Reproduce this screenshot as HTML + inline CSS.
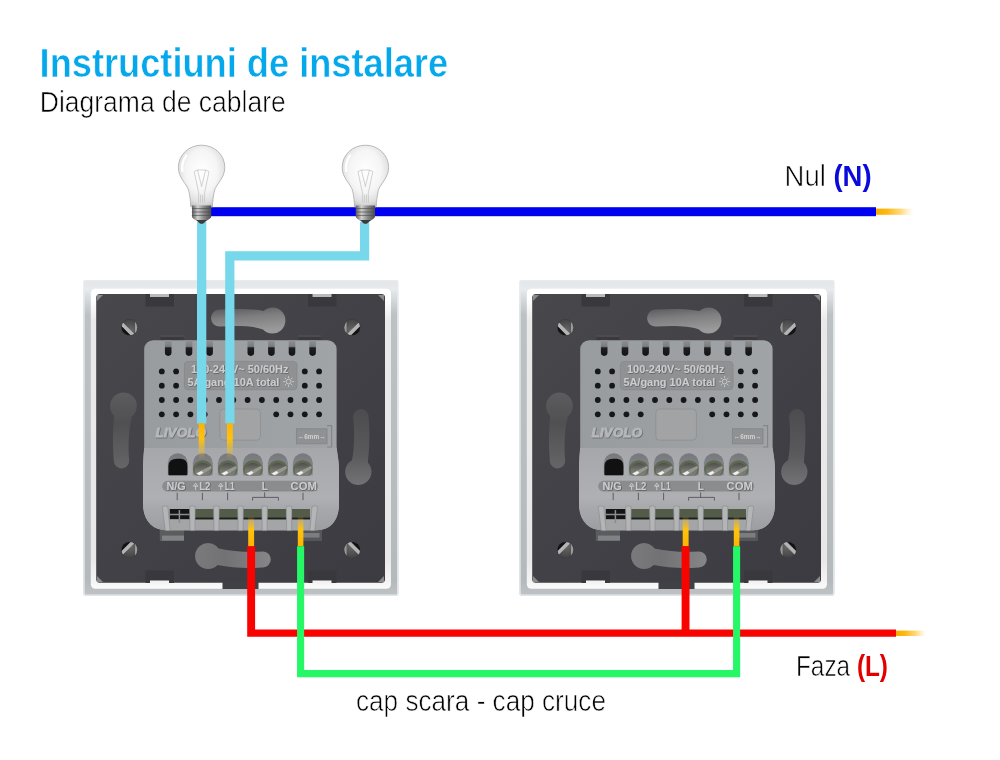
<!DOCTYPE html>
<html lang="ro">
<head>
<meta charset="utf-8">
<title>Instructiuni de instalare - Diagrama de cablare</title>
<style>
html,body{margin:0;padding:0;background:#fff;}
body{width:1000px;height:760px;overflow:hidden;font-family:"Liberation Sans",sans-serif;}
svg{display:block;will-change:transform;}
text{font-family:"Liberation Sans",sans-serif;}
.t1{font-size:40.6px;font-weight:bold;fill:#06a8ec;stroke:#fff;stroke-width:0.5px;}
.t2{font-size:30.3px;fill:#000;stroke:#fff;stroke-width:0.65px;}
.lb{font-size:29.2px;fill:#000;stroke:#fff;stroke-width:0.65px;}
.lb .b{font-weight:bold;stroke:none;}
.mk{font-size:10.2px;font-weight:bold;fill:#cbcdcf;filter:url(#sh);}
.pl{font-size:10px;}
</style>
</head>
<body>
<svg width="1000" height="760" viewBox="0 0 1000 760">
<defs>
<linearGradient id="gPanel" x1="0" y1="0" x2="1" y2="1">
<stop offset="0" stop-color="#47474c"/><stop offset="1" stop-color="#3b3b41"/>
</linearGradient>
<linearGradient id="gFrame" x1="0" y1="0" x2="0" y2="1">
<stop offset="0" stop-color="#e2e6e9"/><stop offset="0.03" stop-color="#e8ebee"/><stop offset="0.045" stop-color="#dde1e4"/><stop offset="0.11" stop-color="#bcc1c4"/><stop offset="0.95" stop-color="#b4b9bc"/><stop offset="1" stop-color="#bfc3c6"/>
</linearGradient>
<linearGradient id="gInner" x1="0" y1="0" x2="0" y2="1">
<stop offset="0" stop-color="#ffffff"/><stop offset="0.035" stop-color="#ffffff"/><stop offset="0.11" stop-color="#e9e9e9"/><stop offset="0.9" stop-color="#e8e8e8"/><stop offset="0.975" stop-color="#f4f4f4"/><stop offset="1" stop-color="#fbfbfb"/>
</linearGradient>
<linearGradient id="gMod" x1="0" y1="0" x2="1" y2="0">
<stop offset="0" stop-color="#999c9f"/><stop offset="1" stop-color="#a1a4a6"/>
</linearGradient>
<linearGradient id="gTerm" x1="0" y1="0" x2="0" y2="1">
<stop offset="0" stop-color="#a5a7aa"/><stop offset="0.6" stop-color="#aeb0b3"/><stop offset="0.74" stop-color="#a6a8ab"/><stop offset="1" stop-color="#9c9ea1"/>
</linearGradient>
<linearGradient id="gSlot" x1="0" y1="0" x2="0" y2="1">
<stop offset="0" stop-color="#8f9193"/><stop offset="0.4" stop-color="#7b7d7f"/><stop offset="0.5" stop-color="#1e1e20"/><stop offset="1" stop-color="#141416"/>
</linearGradient>
<linearGradient id="gKeyT" x1="0" y1="0" x2="0.25" y2="1">
<stop offset="0" stop-color="#565659"/><stop offset="0.45" stop-color="#7e7e80"/><stop offset="1" stop-color="#9a9a9a"/>
</linearGradient>
<linearGradient id="gKeyL" x1="0" y1="0" x2="0" y2="1">
<stop offset="0" stop-color="#5c5c5e"/><stop offset="0.4" stop-color="#505052"/><stop offset="1" stop-color="#656567"/>
</linearGradient>
<linearGradient id="gKeyR" x1="0" y1="0" x2="0" y2="1">
<stop offset="0" stop-color="#4c4c4e"/><stop offset="0.6" stop-color="#5a5a5c"/><stop offset="1" stop-color="#737375"/>
</linearGradient>
<linearGradient id="gKeyB" x1="0" y1="0" x2="1" y2="0">
<stop offset="0" stop-color="#7a7a7c"/><stop offset="0.4" stop-color="#727274"/><stop offset="1" stop-color="#868688"/>
</linearGradient>
<linearGradient id="gScrew" x1="0" y1="0" x2="1" y2="1">
<stop offset="0" stop-color="#8a8c88"/><stop offset="0.45" stop-color="#c9cac8"/><stop offset="0.55" stop-color="#5e605c"/><stop offset="1" stop-color="#8e908c"/>
</linearGradient>
<linearGradient id="gYelDown" x1="0" y1="0" x2="0" y2="1">
<stop offset="0" stop-color="#ffc20e" stop-opacity="0"/><stop offset="0.45" stop-color="#ffc20e" stop-opacity="1"/><stop offset="1" stop-color="#ffb400"/>
</linearGradient>
<linearGradient id="gYelUp" x1="0" y1="0" x2="0" y2="1">
<stop offset="0" stop-color="#ffb400"/><stop offset="0.42" stop-color="#ffc20e" stop-opacity="1"/><stop offset="1" stop-color="#ffc20e" stop-opacity="0"/>
</linearGradient>
<linearGradient id="gYelTip" x1="0" y1="0" x2="1" y2="0">
<stop offset="0" stop-color="#f9ac00"/><stop offset="0.3" stop-color="#fdb913"/><stop offset="0.65" stop-color="#fecb4b" stop-opacity="0.75"/><stop offset="1" stop-color="#ffd873" stop-opacity="0"/>
</linearGradient>
<radialGradient id="gBulb" cx="0.5" cy="0.42" r="0.62">
<stop offset="0" stop-color="#ffffff"/><stop offset="0.55" stop-color="#f5f5f5"/><stop offset="0.82" stop-color="#e0e0e0"/><stop offset="1" stop-color="#bcbcbc"/>
</radialGradient>
<linearGradient id="gBase" x1="0" y1="0" x2="1" y2="0">
<stop offset="0" stop-color="#5e5e5e"/><stop offset="0.3" stop-color="#cfcfcf"/><stop offset="0.6" stop-color="#8c8c8c"/><stop offset="1" stop-color="#4c4c4c"/>
</linearGradient>
<filter id="sh" x="-10%" y="-30%" width="120%" height="170%"><feDropShadow dx="0.55" dy="0.55" stdDeviation="0.25" flood-color="#3c3e40" flood-opacity="0.85"/></filter>
<clipPath id="cScrew"><circle cx="0" cy="0" r="7.9"/></clipPath>
<radialGradient id="gPs" cx="0.55" cy="0.7" r="0.8">
<stop offset="0" stop-color="#6a6a6a"/><stop offset="1" stop-color="#363638"/>
</radialGradient>
<g id="ps">
<circle cx="0" cy="0" r="8.3" fill="#3a3a3d"/>
<g clip-path="url(#cScrew)">
<rect x="-10" y="-10" width="20" height="20" fill="url(#gPs)"/>
<path d="M-10,-3.2 L-10,-8.4 L10,11.6 L10,16.8Z" fill="#b4b4b4"/>
<path d="M-10,-3.2 L10,16.8 L-10,16.8Z" fill="#121214"/>
<path d="M5.6,-10 L10,-10 L10,11.6 L5.6,7.2Z" fill="#9a9a9a"/>
</g>
</g>
<clipPath id="cArch"><path d="M-10,10.6 L-10,-0.8 A10,10 0 0 1 10,-0.8 L10,10.6 Q10,11.6 9,11.6 L-9,11.6 Q-10,11.6 -10,10.6Z"/></clipPath>
<linearGradient id="gArch" x1="0" y1="0" x2="0" y2="1"><stop offset="0" stop-color="#76787b"/><stop offset="1" stop-color="#8a8c8f"/></linearGradient>
<linearGradient id="gHead" x1="0" y1="0" x2="0" y2="1">
<stop offset="0" stop-color="#4c4e47"/><stop offset="0.5" stop-color="#74766f"/><stop offset="1" stop-color="#80827c"/>
</linearGradient>
<g id="tscrew">
<path d="M-10,10.6 L-10,-0.8 A10,10 0 0 1 10,-0.8 L10,10.6 Q10,11.6 9,11.6 L-9,11.6 Q-10,11.6 -10,10.6Z" fill="url(#gArch)"/>
<g clip-path="url(#cArch)">
<ellipse cx="0" cy="5.2" rx="9.8" ry="9" fill="#5c6852"/>
<ellipse cx="0" cy="6.2" rx="8.2" ry="7.2" fill="url(#gHead)"/>
<path d="M-7.6,9.6 L8.4,1.8 L9,4.4 L-3,12Z" fill="#969892"/>
<path d="M-6.2,9.4 L-1.4,6.9 L0.6,8.8 L-3.2,11.2Z" fill="#f0f0ec"/>
</g>
</g>
<g id="bulb">
<path d="M0,-60.4 C12.8,-60.4 23.2,-50.8 23.2,-38.2 C23.2,-27 14.2,-21.6 12.7,-14.4 C11.7,-9.6 11.1,-5 10.8,1.2 L-10.8,1.2 C-11.1,-5 -11.7,-9.6 -12.7,-14.4 C-14.2,-21.6 -23.2,-27 -23.2,-38.2 C-23.2,-50.8 -12.8,-60.4 0,-60.4Z" fill="url(#gBulb)" stroke="#b2b2b2" stroke-width="0.9"/>
<path d="M-15.4,-50 C-18.6,-45.6 -20,-40 -19.2,-34.6" fill="none" stroke="#ffffff" stroke-width="2.4" stroke-linecap="round"/>
<g fill="none" stroke="#c0c0c0" stroke-width="0.7">
<path d="M-3,-3 L-3,-11 M-1,-3 L-1,-11 M1,-3 L1,-11 M3,-3 L3,-11"/>
<path d="M-2.6,-11 L-7.4,-34 L-4,-35.6 L0,-19 L4,-35.6 L7.4,-34 L2.6,-11"/>
<path d="M-4,-35.6 L4,-35.6"/>
</g>
<path d="M-9.6,0 L9.6,0 L9.6,11 C9.6,13 6,14.4 3.6,16.2 L0,18.4 L-3.6,16.2 C-6,14.4 -9.6,13 -9.6,11Z" fill="url(#gBase)"/>
<path d="M-9.8,3 L9.8,3 M-9.8,6.4 L9.8,6.4 M-9.8,9.8 L9.8,9.8" stroke="#4a4a4a" stroke-width="0.9" opacity="0.75"/>
<path d="M-5.4,14.4 L5.4,14.4 L2,17.6 Q0,18.8 -2,17.6Z" fill="#3c3c3c"/>
</g>
</defs>
<rect x="0" y="0" width="1000" height="760" fill="#ffffff"/>
<text class="t1" x="39.6" y="77" textLength="408.5" lengthAdjust="spacingAndGlyphs">Instructiuni de instalare</text>
<text class="t2" x="39.8" y="112.2" textLength="246" lengthAdjust="spacingAndGlyphs">Diagrama de cablare</text>
<g>
<rect x="83.4" y="280" width="315" height="315.8" rx="2" fill="url(#gFrame)"/>
<rect x="84" y="280.6" width="313.8" height="314.6" rx="1.8" fill="none" stroke="#e9ebed" stroke-width="1.3"/>
<rect x="90.8" y="288.8" width="300.2" height="300" rx="4.5" fill="url(#gInner)"/>
<rect x="96.2" y="294" width="288.8" height="288.8" rx="3.5" fill="url(#gPanel)"/>
<path d="M97,295 L103,295 L97,301Z" fill="#8a8a8c"/><path d="M384,295 L378,295 L384,301Z" fill="#8a8a8c"/>
<path d="M97,582 L103,582 L97,576Z" fill="#8a8a8c"/><path d="M384,582 L378,582 L384,576Z" fill="#8a8a8c"/>
<rect x="145.5" y="294" width="28.5" height="12.5" fill="#38383d"/><rect x="150" y="294" width="19" height="3" fill="#b9babb"/>
<rect x="308" y="294" width="28.5" height="12.5" fill="#38383d"/><rect x="312.5" y="294" width="19" height="3" fill="#b9babb"/>
<rect x="145.5" y="570.5" width="28.5" height="12.5" fill="#38383d"/><rect x="150" y="580.5" width="19" height="3" fill="#f2f2f2"/>
<rect x="308" y="570.5" width="28.5" height="12.5" fill="#38383d"/><rect x="312.5" y="580.5" width="19" height="3" fill="#f2f2f2"/>
<rect x="222.5" y="582" width="36" height="7" fill="#404045"/>
<use href="#ps" transform="translate(129.4,327.4)"/><use href="#ps" transform="translate(352.2,327.4) scale(-1,1)"/><use href="#ps" transform="translate(129.4,549.8) scale(1,-1)"/><use href="#ps" transform="translate(352.2,549.8) scale(-1,-1)"/>
<path d="M219,309.6 C235,308.4 252,308.6 263.5,311 A13,13 0 1 1 263,329.4 C252,325.6 236,325.6 220,326.6 A8.5,8.5 0 0 1 219,309.6Z" fill="url(#gKeyT)"/>
<path d="M114.2,415.6 A13.4,13.4 0 1 1 131.8,416.4 C128.6,430 128,446 129.2,460.4 A7.7,7.7 0 0 1 114,462.4 C112.6,447 112.6,430 114.2,415.6Z" fill="url(#gKeyL)"/>
<path d="M353,417 A7.8,7.8 0 0 1 368.6,416.6 C370,432 369.6,448 367.8,462.6 A13.2,13.2 0 1 1 352,460.2 C354.6,446 354.6,431 353,417Z" fill="url(#gKeyR)"/>
<path d="M218.6,548.4 C233,551.6 249,552.4 262.5,551.4 A8,8 0 0 1 263,567.4 C248,568.6 232,568 217.6,565 A13,13 0 1 1 218.6,548.4Z" fill="url(#gKeyB)"/>
<rect x="160.4" y="336" width="23.2" height="6" fill="#3a3a3e"/><rect x="298" y="336" width="23.2" height="6" fill="#3a3a3e"/><rect x="160.4" y="335.6" width="23.2" height="1" fill="#58585c"/><rect x="298" y="335.6" width="23.2" height="1" fill="#58585c"/>
<rect x="159.8" y="530" width="24.2" height="11" fill="#5c5c5f"/><rect x="162" y="535.6" width="22" height="5" fill="#818283"/>
<rect x="303" y="530" width="19" height="11" fill="#55565a"/><rect x="303" y="533" width="16.5" height="4.6" fill="#7c7d7e"/>
<path d="M144.2,349 A9,9 0 0 1 153.2,340.2 L327.6,340.2 A9,9 0 0 1 336.6,349 L336.6,446 C336.8,452 339,460 339,470 L339,504 C339,521 330,530.2 317,530.2 L166,530.2 C153,530.2 143,521 143,504 L143,470 C143,460 144,452 144.2,446Z" fill="url(#gMod)"/>
<path d="M144.1,448 L336.7,448 C337,453 339,460 339,470 L339,504 C339,521 330,530.2 317,530.2 L166,530.2 C153,530.2 143,521 143,504 L143,470 C143,460 143.9,453 144.1,448Z" fill="url(#gTerm)"/>
<path d="M164.9,340 L171.5,340 L171.5,352.6 A3.3,3.3 0 0 1 164.9,352.6Z" fill="url(#gSlot)"/><path d="M185.7,340 L192.3,340 L192.3,352.6 A3.3,3.3 0 0 1 185.7,352.6Z" fill="url(#gSlot)"/><path d="M206.3,340 L212.9,340 L212.9,352.6 A3.3,3.3 0 0 1 206.3,352.6Z" fill="url(#gSlot)"/><path d="M226.9,340 L233.5,340 L233.5,352.6 A3.3,3.3 0 0 1 226.9,352.6Z" fill="url(#gSlot)"/><path d="M247.5,340 L254.1,340 L254.1,352.6 A3.3,3.3 0 0 1 247.5,352.6Z" fill="url(#gSlot)"/><path d="M268.1,340 L274.7,340 L274.7,352.6 A3.3,3.3 0 0 1 268.1,352.6Z" fill="url(#gSlot)"/><path d="M288.7,340 L295.3,340 L295.3,352.6 A3.3,3.3 0 0 1 288.7,352.6Z" fill="url(#gSlot)"/><path d="M309.3,340 L315.9,340 L315.9,352.6 A3.3,3.3 0 0 1 309.3,352.6Z" fill="url(#gSlot)"/>
<circle cx="161.8" cy="371.4" r="2.9" fill="#17171a"/><circle cx="176.1" cy="371.4" r="2.9" fill="#17171a"/><circle cx="304.8" cy="371.4" r="2.9" fill="#17171a"/><circle cx="319.1" cy="371.4" r="2.9" fill="#17171a"/><circle cx="161.8" cy="385.7" r="2.9" fill="#17171a"/><circle cx="176.1" cy="385.7" r="2.9" fill="#17171a"/><circle cx="304.8" cy="385.7" r="2.9" fill="#17171a"/><circle cx="319.1" cy="385.7" r="2.9" fill="#17171a"/><circle cx="161.8" cy="400" r="2.9" fill="#17171a"/><circle cx="176.1" cy="400" r="2.9" fill="#17171a"/><circle cx="190.4" cy="400" r="2.9" fill="#17171a"/><circle cx="204.7" cy="400" r="2.9" fill="#17171a"/><circle cx="219" cy="400" r="2.9" fill="#17171a"/><circle cx="233.3" cy="400" r="2.9" fill="#17171a"/><circle cx="247.6" cy="400" r="2.9" fill="#17171a"/><circle cx="261.9" cy="400" r="2.9" fill="#17171a"/><circle cx="276.2" cy="400" r="2.9" fill="#17171a"/><circle cx="290.5" cy="400" r="2.9" fill="#17171a"/><circle cx="304.8" cy="400" r="2.9" fill="#17171a"/><circle cx="319.1" cy="400" r="2.9" fill="#17171a"/><circle cx="161.8" cy="414.3" r="2.9" fill="#17171a"/><circle cx="176.1" cy="414.3" r="2.9" fill="#17171a"/><circle cx="190.4" cy="414.3" r="2.9" fill="#17171a"/><circle cx="204.7" cy="414.3" r="2.9" fill="#17171a"/><circle cx="276.2" cy="414.3" r="2.9" fill="#17171a"/><circle cx="290.5" cy="414.3" r="2.9" fill="#17171a"/><circle cx="304.8" cy="414.3" r="2.9" fill="#17171a"/><circle cx="319.1" cy="414.3" r="2.9" fill="#17171a"/>
<rect x="184.4" y="361.4" width="112.6" height="28.4" rx="3.5" fill="#8f9193" stroke="#86888a" stroke-width="0.8"/>
<text class="mk" x="191" y="373.2" textLength="97.4" lengthAdjust="spacingAndGlyphs" style="white-space:pre" word-spacing="-1.4">100-240V~  50/60Hz</text>
<text class="mk" x="187.4" y="385.9" textLength="92" lengthAdjust="spacingAndGlyphs">5A/gang 10A total</text>
<g stroke="#cfd0d1" stroke-width="0.9" fill="none"><circle cx="288.6" cy="381.6" r="2.4"/><path d="M292.2,381.6 L294,381.6"/><path d="M291.15,384.15 L292.42,385.42"/><path d="M288.6,385.2 L288.6,387"/><path d="M286.05,384.15 L284.78,385.42"/><path d="M285,381.6 L283.2,381.6"/><path d="M286.05,379.05 L284.78,377.78"/><path d="M288.6,378 L288.6,376.2"/><path d="M291.15,379.05 L292.42,377.78"/></g>
<rect x="219.8" y="409" width="40.6" height="31.2" rx="4" fill="#a1a3a5" stroke="#8e9092" stroke-width="0.9"/>
<text filter="url(#sh)" x="155.6" y="437.3" font-size="12.4" font-weight="bold" font-style="italic" fill="#b6b8ba" stroke="#b6b8ba" stroke-width="0.8" textLength="50.4" lengthAdjust="spacingAndGlyphs">LIVOLO</text>
<rect x="296.4" y="428.8" width="30.6" height="15" fill="#8f9193" stroke="#84868a" stroke-width="0.9"/><path d="M327,425.6 L331.6,425.6 L331.6,447 L327,447" fill="none" stroke="#84868a" stroke-width="1.2"/><text x="311.7" y="439.4" font-size="7.6" font-weight="bold" fill="#d2d3d4" text-anchor="middle" textLength="28" lengthAdjust="spacingAndGlyphs">←6mm→</text>
<path d="M167.8,474.6 L167.8,463.2 A10,10 0 0 1 187.8,463.2 L187.8,474.6 Q187.8,475.6 186.8,475.6 L168.8,475.6 Q167.8,475.6 167.8,474.6Z" fill="url(#gArch)"/><path d="M168.4,474 L168.4,466 Q168.8,458.8 177,458.8 L181,458.8 Q187.4,459.4 187.4,466 L187.4,474 Q187.4,475.2 186.4,475.2 L169.4,475.2 Q168.4,475.2 168.4,474Z" fill="#111112"/>
<use href="#tscrew" x="202.8" y="464"/><use href="#tscrew" x="227.8" y="464"/><use href="#tscrew" x="252.9" y="464"/><use href="#tscrew" x="277.9" y="464"/><use href="#tscrew" x="302.8" y="464"/>
<rect x="162.2" y="480.8" width="155.8" height="10.8" rx="5.4" fill="#8a8c8e"/>
<text class="mk pl" x="166.4" y="490" textLength="19.2" lengthAdjust="spacingAndGlyphs">N/G</text><text class="mk pl" x="199.2" y="490" textLength="11.2" lengthAdjust="spacingAndGlyphs">L2</text><text class="mk pl" x="224.8" y="490" textLength="9.8" lengthAdjust="spacingAndGlyphs">L1</text><text class="mk pl" x="264.8" y="490" text-anchor="middle">L</text><text class="mk pl" x="290.6" y="490" textLength="26.2" lengthAdjust="spacingAndGlyphs">COM</text>
<path d="M195.6,490.2 L195.6,485.6 M193.4,486.2 L195.6,483.2 L197.8,486.2Z" fill="none" stroke="#cfd0d1" stroke-width="0.9"/><path d="M220.8,490.2 L220.8,485.6 M218.6,486.2 L220.8,483.2 L223,486.2Z" fill="none" stroke="#cfd0d1" stroke-width="0.9"/>
<g stroke="#54565a" stroke-width="0.9" fill="none"><path d="M177.2,492.8 L177.2,500.2"/><path d="M202.4,492.8 L202.4,500.2"/><path d="M227.6,492.8 L227.6,500.2"/><path d="M303,492.8 L303,500.2"/><path d="M264.6,492.4 L264.6,497.4 M252.6,500.6 L252.6,497.4 L278.4,497.4 L278.4,500.6"/></g>
<rect x="169.8" y="509" width="20" height="10.4" fill="#151516"/><rect x="169.8" y="519.4" width="20" height="10.8" fill="#a3a5a7"/><rect x="195" y="509" width="18.8" height="10.4" fill="#535b49"/><rect x="195" y="519.4" width="18.8" height="10.8" fill="#a3a5a7"/><rect x="195" y="517.6" width="18.8" height="1.8" fill="#1d2019"/><rect x="219" y="509" width="18.9" height="10.4" fill="#535b49"/><rect x="219" y="519.4" width="18.9" height="10.8" fill="#a3a5a7"/><rect x="219" y="517.6" width="18.9" height="1.8" fill="#1d2019"/><rect x="243.1" y="509" width="18.9" height="10.4" fill="#535b49"/><rect x="243.1" y="519.4" width="18.9" height="10.8" fill="#a3a5a7"/><rect x="243.1" y="517.6" width="18.9" height="1.8" fill="#1d2019"/><rect x="267.2" y="509" width="19.2" height="10.4" fill="#535b49"/><rect x="267.2" y="519.4" width="19.2" height="10.8" fill="#a3a5a7"/><rect x="267.2" y="517.6" width="19.2" height="1.8" fill="#1d2019"/><rect x="291.6" y="509" width="18.4" height="10.4" fill="#535b49"/><rect x="291.6" y="519.4" width="18.4" height="10.8" fill="#a3a5a7"/><rect x="291.6" y="517.6" width="18.4" height="1.8" fill="#1d2019"/>
<path d="M170,514.6 L189.6,514.6 M179.4,510 L179.4,523" stroke="#8a8c8e" stroke-width="1.5" fill="none"/>
<path d="M162.2,506.6 Q165,505 167.8,506.6 L170.14,530.6 L165.34,530.6Z" fill="#b3b5b7" stroke="#888a8c" stroke-width="0.6"/><path d="M189.6,506.6 Q192.4,505 195.2,506.6 L194.9,530.6 L190.1,530.6Z" fill="#b3b5b7" stroke="#888a8c" stroke-width="0.6"/><path d="M213.6,506.6 Q216.4,505 219.2,506.6 L218.9,530.6 L214.1,530.6Z" fill="#b3b5b7" stroke="#888a8c" stroke-width="0.6"/><path d="M237.7,506.6 Q240.5,505 243.3,506.6 L243,530.6 L238.2,530.6Z" fill="#b3b5b7" stroke="#888a8c" stroke-width="0.6"/><path d="M261.8,506.6 Q264.6,505 267.4,506.6 L267.1,530.6 L262.3,530.6Z" fill="#b3b5b7" stroke="#888a8c" stroke-width="0.6"/><path d="M286.2,506.6 Q289,505 291.8,506.6 L291.5,530.6 L286.7,530.6Z" fill="#b3b5b7" stroke="#888a8c" stroke-width="0.6"/><path d="M312,506.6 Q314.8,505 317.6,506.6 L314.66,530.6 L309.86,530.6Z" fill="#b3b5b7" stroke="#888a8c" stroke-width="0.6"/>
</g>
<g transform="translate(436,0)">
<rect x="83.4" y="280" width="315" height="315.8" rx="2" fill="url(#gFrame)"/>
<rect x="84" y="280.6" width="313.8" height="314.6" rx="1.8" fill="none" stroke="#e9ebed" stroke-width="1.3"/>
<rect x="90.8" y="288.8" width="300.2" height="300" rx="4.5" fill="url(#gInner)"/>
<rect x="96.2" y="294" width="288.8" height="288.8" rx="3.5" fill="url(#gPanel)"/>
<path d="M97,295 L103,295 L97,301Z" fill="#8a8a8c"/><path d="M384,295 L378,295 L384,301Z" fill="#8a8a8c"/>
<path d="M97,582 L103,582 L97,576Z" fill="#8a8a8c"/><path d="M384,582 L378,582 L384,576Z" fill="#8a8a8c"/>
<rect x="145.5" y="294" width="28.5" height="12.5" fill="#38383d"/><rect x="150" y="294" width="19" height="3" fill="#b9babb"/>
<rect x="308" y="294" width="28.5" height="12.5" fill="#38383d"/><rect x="312.5" y="294" width="19" height="3" fill="#b9babb"/>
<rect x="145.5" y="570.5" width="28.5" height="12.5" fill="#38383d"/><rect x="150" y="580.5" width="19" height="3" fill="#f2f2f2"/>
<rect x="308" y="570.5" width="28.5" height="12.5" fill="#38383d"/><rect x="312.5" y="580.5" width="19" height="3" fill="#f2f2f2"/>
<rect x="222.5" y="582" width="36" height="7" fill="#404045"/>
<use href="#ps" transform="translate(129.4,327.4)"/><use href="#ps" transform="translate(352.2,327.4) scale(-1,1)"/><use href="#ps" transform="translate(129.4,549.8) scale(1,-1)"/><use href="#ps" transform="translate(352.2,549.8) scale(-1,-1)"/>
<path d="M219,309.6 C235,308.4 252,308.6 263.5,311 A13,13 0 1 1 263,329.4 C252,325.6 236,325.6 220,326.6 A8.5,8.5 0 0 1 219,309.6Z" fill="url(#gKeyT)"/>
<path d="M114.2,415.6 A13.4,13.4 0 1 1 131.8,416.4 C128.6,430 128,446 129.2,460.4 A7.7,7.7 0 0 1 114,462.4 C112.6,447 112.6,430 114.2,415.6Z" fill="url(#gKeyL)"/>
<path d="M353,417 A7.8,7.8 0 0 1 368.6,416.6 C370,432 369.6,448 367.8,462.6 A13.2,13.2 0 1 1 352,460.2 C354.6,446 354.6,431 353,417Z" fill="url(#gKeyR)"/>
<path d="M218.6,548.4 C233,551.6 249,552.4 262.5,551.4 A8,8 0 0 1 263,567.4 C248,568.6 232,568 217.6,565 A13,13 0 1 1 218.6,548.4Z" fill="url(#gKeyB)"/>
<rect x="160.4" y="336" width="23.2" height="6" fill="#3a3a3e"/><rect x="298" y="336" width="23.2" height="6" fill="#3a3a3e"/><rect x="160.4" y="335.6" width="23.2" height="1" fill="#58585c"/><rect x="298" y="335.6" width="23.2" height="1" fill="#58585c"/>
<rect x="159.8" y="530" width="24.2" height="11" fill="#5c5c5f"/><rect x="162" y="535.6" width="22" height="5" fill="#818283"/>
<rect x="303" y="530" width="19" height="11" fill="#55565a"/><rect x="303" y="533" width="16.5" height="4.6" fill="#7c7d7e"/>
<path d="M144.2,349 A9,9 0 0 1 153.2,340.2 L327.6,340.2 A9,9 0 0 1 336.6,349 L336.6,446 C336.8,452 339,460 339,470 L339,504 C339,521 330,530.2 317,530.2 L166,530.2 C153,530.2 143,521 143,504 L143,470 C143,460 144,452 144.2,446Z" fill="url(#gMod)"/>
<path d="M144.1,448 L336.7,448 C337,453 339,460 339,470 L339,504 C339,521 330,530.2 317,530.2 L166,530.2 C153,530.2 143,521 143,504 L143,470 C143,460 143.9,453 144.1,448Z" fill="url(#gTerm)"/>
<path d="M164.9,340 L171.5,340 L171.5,352.6 A3.3,3.3 0 0 1 164.9,352.6Z" fill="url(#gSlot)"/><path d="M185.7,340 L192.3,340 L192.3,352.6 A3.3,3.3 0 0 1 185.7,352.6Z" fill="url(#gSlot)"/><path d="M206.3,340 L212.9,340 L212.9,352.6 A3.3,3.3 0 0 1 206.3,352.6Z" fill="url(#gSlot)"/><path d="M226.9,340 L233.5,340 L233.5,352.6 A3.3,3.3 0 0 1 226.9,352.6Z" fill="url(#gSlot)"/><path d="M247.5,340 L254.1,340 L254.1,352.6 A3.3,3.3 0 0 1 247.5,352.6Z" fill="url(#gSlot)"/><path d="M268.1,340 L274.7,340 L274.7,352.6 A3.3,3.3 0 0 1 268.1,352.6Z" fill="url(#gSlot)"/><path d="M288.7,340 L295.3,340 L295.3,352.6 A3.3,3.3 0 0 1 288.7,352.6Z" fill="url(#gSlot)"/><path d="M309.3,340 L315.9,340 L315.9,352.6 A3.3,3.3 0 0 1 309.3,352.6Z" fill="url(#gSlot)"/>
<circle cx="161.8" cy="371.4" r="2.9" fill="#17171a"/><circle cx="176.1" cy="371.4" r="2.9" fill="#17171a"/><circle cx="304.8" cy="371.4" r="2.9" fill="#17171a"/><circle cx="319.1" cy="371.4" r="2.9" fill="#17171a"/><circle cx="161.8" cy="385.7" r="2.9" fill="#17171a"/><circle cx="176.1" cy="385.7" r="2.9" fill="#17171a"/><circle cx="304.8" cy="385.7" r="2.9" fill="#17171a"/><circle cx="319.1" cy="385.7" r="2.9" fill="#17171a"/><circle cx="161.8" cy="400" r="2.9" fill="#17171a"/><circle cx="176.1" cy="400" r="2.9" fill="#17171a"/><circle cx="190.4" cy="400" r="2.9" fill="#17171a"/><circle cx="204.7" cy="400" r="2.9" fill="#17171a"/><circle cx="219" cy="400" r="2.9" fill="#17171a"/><circle cx="233.3" cy="400" r="2.9" fill="#17171a"/><circle cx="247.6" cy="400" r="2.9" fill="#17171a"/><circle cx="261.9" cy="400" r="2.9" fill="#17171a"/><circle cx="276.2" cy="400" r="2.9" fill="#17171a"/><circle cx="290.5" cy="400" r="2.9" fill="#17171a"/><circle cx="304.8" cy="400" r="2.9" fill="#17171a"/><circle cx="319.1" cy="400" r="2.9" fill="#17171a"/><circle cx="161.8" cy="414.3" r="2.9" fill="#17171a"/><circle cx="176.1" cy="414.3" r="2.9" fill="#17171a"/><circle cx="190.4" cy="414.3" r="2.9" fill="#17171a"/><circle cx="204.7" cy="414.3" r="2.9" fill="#17171a"/><circle cx="276.2" cy="414.3" r="2.9" fill="#17171a"/><circle cx="290.5" cy="414.3" r="2.9" fill="#17171a"/><circle cx="304.8" cy="414.3" r="2.9" fill="#17171a"/><circle cx="319.1" cy="414.3" r="2.9" fill="#17171a"/>
<rect x="184.4" y="361.4" width="112.6" height="28.4" rx="3.5" fill="#8f9193" stroke="#86888a" stroke-width="0.8"/>
<text class="mk" x="191" y="373.2" textLength="97.4" lengthAdjust="spacingAndGlyphs" style="white-space:pre" word-spacing="-1.4">100-240V~  50/60Hz</text>
<text class="mk" x="187.4" y="385.9" textLength="92" lengthAdjust="spacingAndGlyphs">5A/gang 10A total</text>
<g stroke="#cfd0d1" stroke-width="0.9" fill="none"><circle cx="288.6" cy="381.6" r="2.4"/><path d="M292.2,381.6 L294,381.6"/><path d="M291.15,384.15 L292.42,385.42"/><path d="M288.6,385.2 L288.6,387"/><path d="M286.05,384.15 L284.78,385.42"/><path d="M285,381.6 L283.2,381.6"/><path d="M286.05,379.05 L284.78,377.78"/><path d="M288.6,378 L288.6,376.2"/><path d="M291.15,379.05 L292.42,377.78"/></g>
<rect x="219.8" y="409" width="40.6" height="31.2" rx="4" fill="#a1a3a5" stroke="#8e9092" stroke-width="0.9"/>
<text filter="url(#sh)" x="155.6" y="437.3" font-size="12.4" font-weight="bold" font-style="italic" fill="#b6b8ba" stroke="#b6b8ba" stroke-width="0.8" textLength="50.4" lengthAdjust="spacingAndGlyphs">LIVOLO</text>
<rect x="296.4" y="428.8" width="30.6" height="15" fill="#8f9193" stroke="#84868a" stroke-width="0.9"/><path d="M327,425.6 L331.6,425.6 L331.6,447 L327,447" fill="none" stroke="#84868a" stroke-width="1.2"/><text x="311.7" y="439.4" font-size="7.6" font-weight="bold" fill="#d2d3d4" text-anchor="middle" textLength="28" lengthAdjust="spacingAndGlyphs">←6mm→</text>
<path d="M167.8,474.6 L167.8,463.2 A10,10 0 0 1 187.8,463.2 L187.8,474.6 Q187.8,475.6 186.8,475.6 L168.8,475.6 Q167.8,475.6 167.8,474.6Z" fill="url(#gArch)"/><path d="M168.4,474 L168.4,466 Q168.8,458.8 177,458.8 L181,458.8 Q187.4,459.4 187.4,466 L187.4,474 Q187.4,475.2 186.4,475.2 L169.4,475.2 Q168.4,475.2 168.4,474Z" fill="#111112"/>
<use href="#tscrew" x="202.8" y="464"/><use href="#tscrew" x="227.8" y="464"/><use href="#tscrew" x="252.9" y="464"/><use href="#tscrew" x="277.9" y="464"/><use href="#tscrew" x="302.8" y="464"/>
<rect x="162.2" y="480.8" width="155.8" height="10.8" rx="5.4" fill="#8a8c8e"/>
<text class="mk pl" x="166.4" y="490" textLength="19.2" lengthAdjust="spacingAndGlyphs">N/G</text><text class="mk pl" x="199.2" y="490" textLength="11.2" lengthAdjust="spacingAndGlyphs">L2</text><text class="mk pl" x="224.8" y="490" textLength="9.8" lengthAdjust="spacingAndGlyphs">L1</text><text class="mk pl" x="264.8" y="490" text-anchor="middle">L</text><text class="mk pl" x="290.6" y="490" textLength="26.2" lengthAdjust="spacingAndGlyphs">COM</text>
<path d="M195.6,490.2 L195.6,485.6 M193.4,486.2 L195.6,483.2 L197.8,486.2Z" fill="none" stroke="#cfd0d1" stroke-width="0.9"/><path d="M220.8,490.2 L220.8,485.6 M218.6,486.2 L220.8,483.2 L223,486.2Z" fill="none" stroke="#cfd0d1" stroke-width="0.9"/>
<g stroke="#54565a" stroke-width="0.9" fill="none"><path d="M177.2,492.8 L177.2,500.2"/><path d="M202.4,492.8 L202.4,500.2"/><path d="M227.6,492.8 L227.6,500.2"/><path d="M303,492.8 L303,500.2"/><path d="M264.6,492.4 L264.6,497.4 M252.6,500.6 L252.6,497.4 L278.4,497.4 L278.4,500.6"/></g>
<rect x="169.8" y="509" width="20" height="10.4" fill="#151516"/><rect x="169.8" y="519.4" width="20" height="10.8" fill="#a3a5a7"/><rect x="195" y="509" width="18.8" height="10.4" fill="#535b49"/><rect x="195" y="519.4" width="18.8" height="10.8" fill="#a3a5a7"/><rect x="195" y="517.6" width="18.8" height="1.8" fill="#1d2019"/><rect x="219" y="509" width="18.9" height="10.4" fill="#535b49"/><rect x="219" y="519.4" width="18.9" height="10.8" fill="#a3a5a7"/><rect x="219" y="517.6" width="18.9" height="1.8" fill="#1d2019"/><rect x="243.1" y="509" width="18.9" height="10.4" fill="#535b49"/><rect x="243.1" y="519.4" width="18.9" height="10.8" fill="#a3a5a7"/><rect x="243.1" y="517.6" width="18.9" height="1.8" fill="#1d2019"/><rect x="267.2" y="509" width="19.2" height="10.4" fill="#535b49"/><rect x="267.2" y="519.4" width="19.2" height="10.8" fill="#a3a5a7"/><rect x="267.2" y="517.6" width="19.2" height="1.8" fill="#1d2019"/><rect x="291.6" y="509" width="18.4" height="10.4" fill="#535b49"/><rect x="291.6" y="519.4" width="18.4" height="10.8" fill="#a3a5a7"/><rect x="291.6" y="517.6" width="18.4" height="1.8" fill="#1d2019"/>
<path d="M170,514.6 L189.6,514.6 M179.4,510 L179.4,523" stroke="#8a8c8e" stroke-width="1.5" fill="none"/>
<path d="M162.2,506.6 Q165,505 167.8,506.6 L170.14,530.6 L165.34,530.6Z" fill="#b3b5b7" stroke="#888a8c" stroke-width="0.6"/><path d="M189.6,506.6 Q192.4,505 195.2,506.6 L194.9,530.6 L190.1,530.6Z" fill="#b3b5b7" stroke="#888a8c" stroke-width="0.6"/><path d="M213.6,506.6 Q216.4,505 219.2,506.6 L218.9,530.6 L214.1,530.6Z" fill="#b3b5b7" stroke="#888a8c" stroke-width="0.6"/><path d="M237.7,506.6 Q240.5,505 243.3,506.6 L243,530.6 L238.2,530.6Z" fill="#b3b5b7" stroke="#888a8c" stroke-width="0.6"/><path d="M261.8,506.6 Q264.6,505 267.4,506.6 L267.1,530.6 L262.3,530.6Z" fill="#b3b5b7" stroke="#888a8c" stroke-width="0.6"/><path d="M286.2,506.6 Q289,505 291.8,506.6 L291.5,530.6 L286.7,530.6Z" fill="#b3b5b7" stroke="#888a8c" stroke-width="0.6"/><path d="M312,506.6 Q314.8,505 317.6,506.6 L314.66,530.6 L309.86,530.6Z" fill="#b3b5b7" stroke="#888a8c" stroke-width="0.6"/>
</g>
<g>
<rect x="205" y="207.2" width="671" height="9" fill="#0000f0"/>
<rect x="876" y="208.6" width="37" height="6.2" fill="url(#gYelTip)"/>
<rect x="197" y="222" width="9.3" height="201.6" fill="#76d8ea"/>
<rect x="198.7" y="423.2" width="5.8" height="36" fill="url(#gYelUp)"/>
<path d="M364.6,222 L364.6,255.9 L229.8,255.9 L229.9,423.6" fill="none" stroke="#76d8ea" stroke-width="9.2"/>
<rect x="227" y="423.2" width="5.8" height="36" fill="url(#gYelUp)"/>
<rect x="248.2" y="516" width="5.9" height="30.4" fill="url(#gYelDown)"/>
<rect x="682.7" y="516" width="5.9" height="30.4" fill="url(#gYelDown)"/>
<path d="M247.2,546.2 L255.1,546.2 L255.1,629.4 L896,629.4 L896,636.8 L247.2,636.8Z" fill="#f80300"/>
<rect x="681.6" y="546.2" width="7.9" height="84" fill="#f80300"/>
<rect x="896" y="630.6" width="30" height="5.4" fill="url(#gYelTip)"/>
<rect x="297.8" y="516" width="5.6" height="30.4" fill="url(#gYelDown)"/>
<rect x="733.8" y="516" width="5.6" height="30.4" fill="url(#gYelDown)"/>
<path d="M300.6,546.2 L300.6,673.6 L736.6,673.6 L736.6,546.2" fill="none" stroke="#26f766" stroke-width="7.1"/>
</g>
<use href="#bulb" x="201.6" y="205.6"/>
<use href="#bulb" x="365.4" y="205.6"/>
<text class="lb" x="784.6" y="186" textLength="87" lengthAdjust="spacingAndGlyphs"><tspan>Nul </tspan><tspan class="b" fill="#0a0adc">(N)</tspan></text>
<text class="lb" x="796" y="675.7" textLength="92" lengthAdjust="spacingAndGlyphs"><tspan>Faza </tspan><tspan class="b" fill="#e00000">(L)</tspan></text>
<text class="lb" x="356" y="711.1" textLength="250" lengthAdjust="spacingAndGlyphs">cap scara - cap cruce</text>
</svg>
</body>
</html>
